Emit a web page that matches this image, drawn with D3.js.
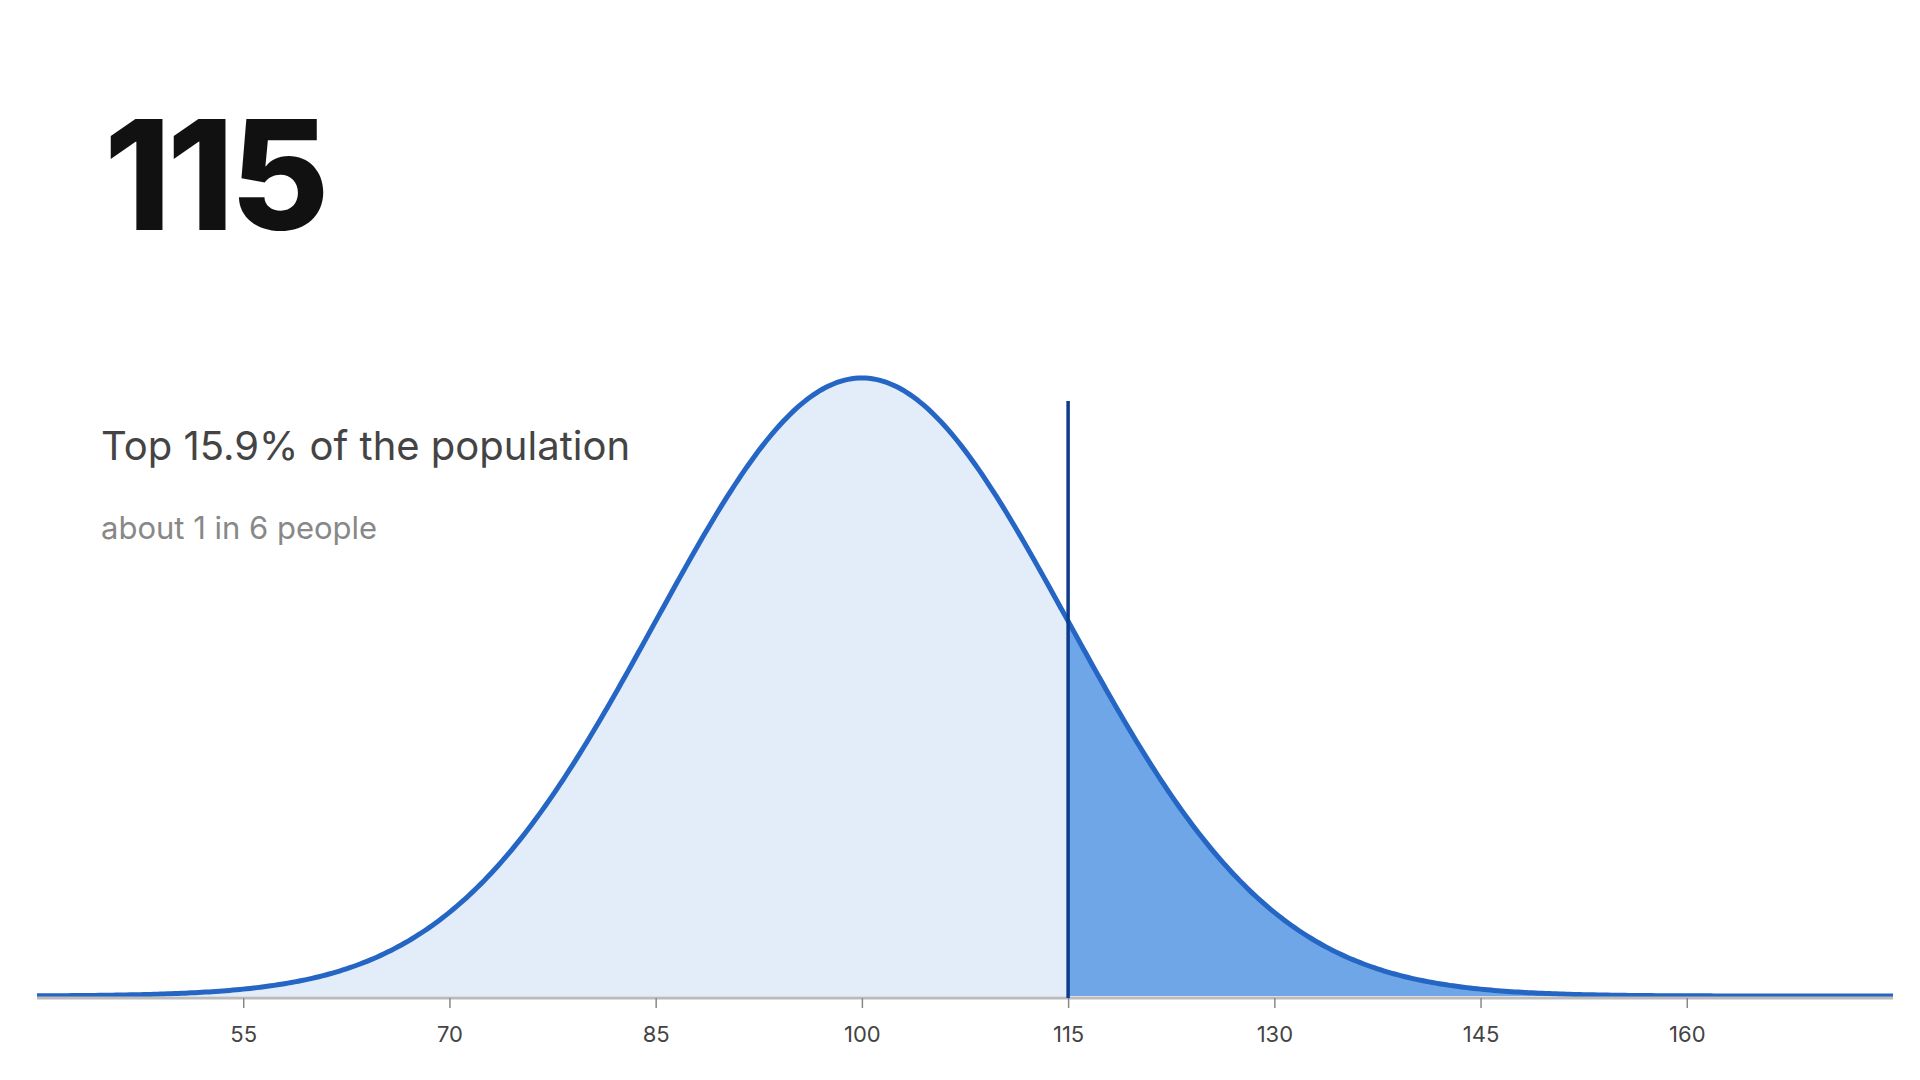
<!DOCTYPE html>
<html><head><meta charset="utf-8">
<script src="https://cdn.jsdelivr.net/npm/d3@7"></script>
<style>body{margin:0;background:#fff}svg{display:block}</style>
</head><body><svg id="c" width="1920" height="1080"></svg>
<script>
const score = 115;
const mean = 100, sd = 15;
const domain = [40, 175];
const tickValues = [55, 70, 85, 100, 115, 130, 145, 160];
const headline = "Top 15.9% of the population";
const subline = "about 1 in 6 people";

const svg = d3.select("#c");
const x = d3.scaleLinear().domain(domain).range([37, 1893]);
const pdf = v => Math.exp(-0.5*((v-mean)/sd)**2)/(sd*Math.sqrt(2*Math.PI));
const y = d3.scaleLinear().domain([0, pdf(mean)]).range([996, 378]);
const pts = d3.range(domain[0], domain[1]+0.001, 0.25).map(v => [v, pdf(v)]);
const area = d3.area().x(d=>x(d[0])).y0(y(0)).y1(d=>y(d[1]));
const line = d3.line().x(d=>x(d[0])).y(d=>y(d[1]));

svg.append("path").attr("d", area(pts)).attr("fill", "#e3edfa");
svg.append("path").attr("d", area(pts.filter(d=>d[0]>=score))).attr("fill", "#6fa6e8");
svg.append("path").attr("d", line(pts)).attr("fill","none").attr("stroke","#2566c4").attr("stroke-width",5);

const ax = svg.append("g").attr("transform","translate(0,998)")
  .call(d3.axisBottom(x).tickValues(tickValues).tickSize(10).tickPadding(18).tickFormat(d3.format("d")));
ax.select(".domain").attr("stroke","#bbb").attr("stroke-width",3).attr("d",`M${x(domain[0])},0H${x(domain[1])}`);
ax.selectAll(".tick line").attr("stroke","#888").attr("stroke-width",1.5);
ax.selectAll("text").attr("font-family","Inter, 'Open Sans', sans-serif").attr("font-size",22).attr("fill","#444");

svg.append("line").attr("x1",x(score)).attr("x2",x(score)).attr("y1",401).attr("y2",998)
  .attr("stroke","#0d3c8c").attr("stroke-width",3.5);

svg.append("text").attr("x",104).attr("y",230).text(score)
  .attr("font-family","Inter, 'Liberation Sans', sans-serif").attr("font-weight",800).attr("font-size",152).attr("fill","#111").attr("letter-spacing",-4);
svg.append("text").attr("x",101).attr("y",460).text(headline)
  .attr("font-family","Inter, 'Open Sans', sans-serif").attr("font-size",40).attr("fill","#444");
svg.append("text").attr("x",101).attr("y",539).text(subline)
  .attr("font-family","Inter, 'Open Sans', sans-serif").attr("font-size",31).attr("fill","#888");
</script></body></html>
